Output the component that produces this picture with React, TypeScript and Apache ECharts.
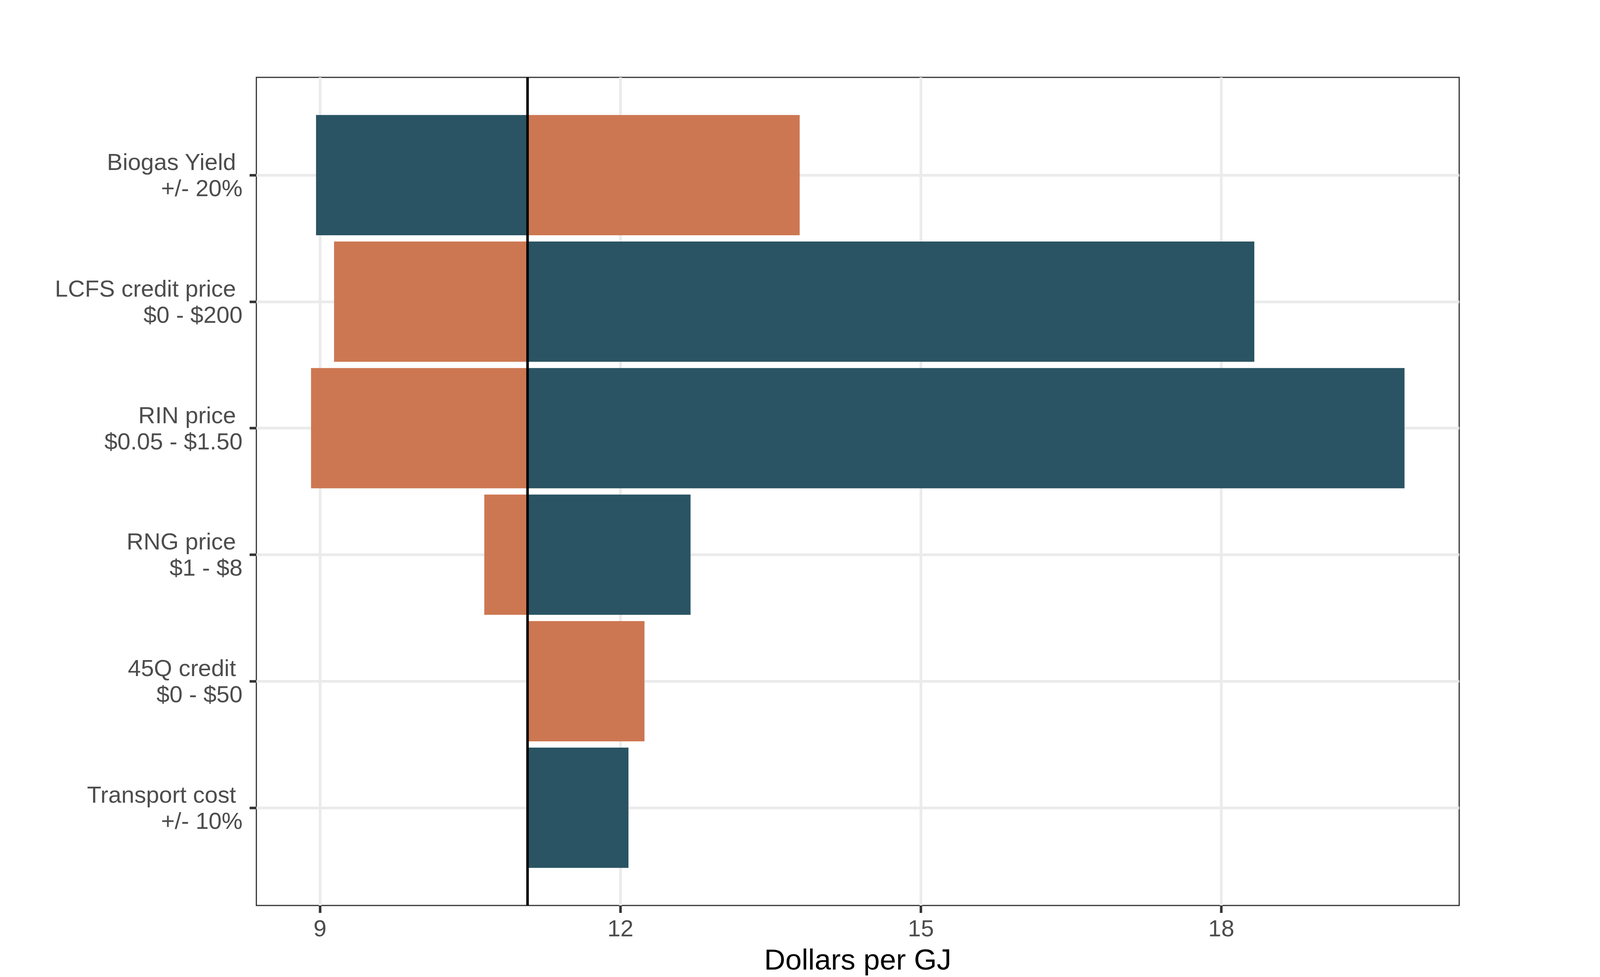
import React, { useEffect, useRef } from "react";
import * as echarts from "echarts";

// ---- data ----
const categories = [
  "Biogas Yield \n+/- 20%",
  "LCFS credit price \n$0 - $200",
  "RIN price \n$0.05 - $1.50",
  "RNG price \n$1 - $8",
  "45Q credit \n$0 - $50",
  "Transport cost \n+/- 10%",
];
const baseCost = 11.07;
const darkValues = [8.96, 18.33, 19.83, 12.7, 11.07, 12.08];
const orangeValues = [13.79, 9.14, 8.91, 10.64, 12.24, 11.07];
const xTicks = [9, 12, 15, 18];
const xTitle = "Dollars per GJ";

// ---- styling ----
const DARK = "#2A5463";
const ORANGE = "#CD7752";
const HALF_BAR = 0.475;
const FONT = "'Liberation Sans', Arial, Helvetica, sans-serif";
const REF_W = 4500;
const REF_H = 2500;

export default function App() {
  const ref = useRef<HTMLDivElement>(null);
  const W = typeof window !== "undefined" ? window.innerWidth || REF_W : REF_W;
  const H = typeof window !== "undefined" ? window.innerHeight || REF_H : REF_H;

  useEffect(() => {
    document.body.style.margin = "0";
    document.body.style.overflow = "hidden";
    if (!ref.current) return;
    const chart = echarts.init(ref.current, undefined, { renderer: "svg" });

    const sx = W / REF_W;
    const sy = H / REF_H;

    const allVals = [...darkValues, ...orangeValues, baseCost];
    const lo = Math.min(...allVals);
    const hi = Math.max(...allVals);
    const pad = (hi - lo) * 0.05;
    const n = categories.length;
    const yPad = (n - 1 + 2 * HALF_BAR) * 0.05 + HALF_BAR;
    const catPos = categories.map((_, i) => i + 1);

    const makeData = (vals: number[]) =>
      vals.map((v, i) => [i + 1, baseCost, v]);

    const renderBar = (color: string) => (params: any, api: any) => {
      const y = api.value(0);
      const a = api.value(1);
      const b = api.value(2);
      const p1 = api.coord([Math.min(a, b), y - HALF_BAR]);
      const p2 = api.coord([Math.max(a, b), y + HALF_BAR]);
      return {
        type: "rect",
        shape: {
          x: Math.min(p1[0], p2[0]),
          y: Math.min(p1[1], p2[1]),
          width: Math.abs(p2[0] - p1[0]),
          height: Math.abs(p2[1] - p1[1]),
        },
        style: { fill: color },
      };
    };

    chart.setOption({
      animation: false,
      backgroundColor: "#ffffff",
      grid: {
        left: 721 * sx,
        right: 396 * sx,
        top: 198 * sy,
        bottom: 183 * sy,
        show: true,
        borderColor: "#333333",
        borderWidth: 3,
        backgroundColor: "#ffffff",
        containLabel: false,
      },
      xAxis: {
        type: "value",
        min: lo - pad,
        max: hi + pad,
        axisLine: { show: false },
        axisTick: {
          show: true,
          customValues: xTicks,
          length: 19 * sy,
          lineStyle: { color: "#333333", width: 6.5 },
        },
        axisLabel: {
          customValues: xTicks,
          margin: 28 * sy,
          fontSize: 60,
          lineHeight: 60,
          color: "#4D4D4D",
          fontFamily: FONT,
        },
        splitLine: { show: true, lineStyle: { color: "#EBEBEB", width: 7 } },
        minorSplitLine: { show: false },
        name: xTitle,
        nameLocation: "middle",
        nameGap: 100 * sy,
        nameTextStyle: {
          fontSize: 75,
          lineHeight: 75,
          color: "#000000",
          fontFamily: FONT,
        },
      },
      yAxis: {
        type: "value",
        inverse: true,
        min: 1 - yPad,
        max: n + yPad,
        axisLine: { show: false },
        axisTick: {
          show: true,
          customValues: catPos,
          length: 19 * sx,
          lineStyle: { color: "#333333", width: 6.5 },
        },
        axisLabel: {
          customValues: catPos,
          formatter: (v: number) => categories[Math.round(v) - 1] ?? "",
          margin: 39 * sx,
          fontSize: 60,
          lineHeight: 67,
          color: "#4D4D4D",
          fontFamily: FONT,
          align: "right",
        },
        splitLine: { show: true, lineStyle: { color: "#EBEBEB", width: 7 } },
      },
      series: [
        {
          type: "custom",
          name: "dark",
          renderItem: renderBar(DARK),
          encode: { x: [1, 2], y: 0 },
          data: makeData(darkValues),
          z: 2,
        },
        {
          type: "custom",
          name: "orange",
          renderItem: renderBar(ORANGE),
          encode: { x: [1, 2], y: 0 },
          data: makeData(orangeValues),
          z: 2,
          markLine: {
            silent: true,
            symbol: ["none", "none"],
            label: { show: false },
            lineStyle: { color: "#000000", width: 6.5, type: "solid" },
            data: [{ xAxis: baseCost }],
            z: 5,
          },
        },
      ],
    });

    return () => chart.dispose();
  }, []);

  return <div ref={ref} style={{ width: W, height: H }} />;
}
